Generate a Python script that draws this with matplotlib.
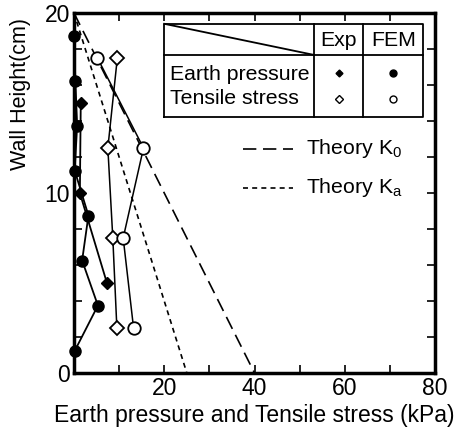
import matplotlib.pyplot as plt
import numpy as np

plt.rcParams['font.family'] = ['Liberation Sans', 'DejaVu Sans']

# FEM earth pressure (filled circles)
fem_ep_h = [18.75, 16.25, 13.75, 11.25, 8.75, 6.25, 3.75, 1.25]
fem_ep_p = [0.0, 0.3, 0.7, 0.15, 3.2, 1.8, 5.3, 0.2]
# Exp earth pressure (filled diamonds)
exp_ep_h = [15.0, 10.0, 5.0]
exp_ep_p = [1.5, 1.3, 7.3]
# Exp tensile stress (open diamonds)
exp_ts_h = [17.5, 12.5, 7.5, 2.5]
exp_ts_p = [9.6, 7.5, 8.6, 9.5]
# FEM tensile stress (open circles)
fem_ts_h = [17.5, 12.5, 7.5, 2.5]
fem_ts_p = [5.2, 15.4, 10.9, 13.2]
# theory lines
k0_p = [0, 40]
ka_p = [0, 25]
theory_h = [20, 0]

fig = plt.figure(figsize=(4.66, 4.29), dpi=100)
ax = fig.add_axes([74/466, 1 - 373/429, (435-74)/466, (373-13)/429])

ax.plot(k0_p, theory_h, color='black', lw=1.2, dashes=(8, 4))
ax.plot(ka_p, theory_h, color='black', lw=1.2, dashes=(3, 2.5))

ax.plot(fem_ep_p, fem_ep_h, color='black', lw=1.3, marker='o', ms=8,
        mfc='black', mec='black', clip_on=False, zorder=5)
ax.plot(exp_ep_p, exp_ep_h, color='black', lw=1.3, marker='D', ms=6,
        mfc='black', mec='black', clip_on=False, zorder=5)
ax.plot(exp_ts_p, exp_ts_h, color='black', lw=1.1, marker='D', ms=7,
        mfc='white', mec='black', mew=1.3, zorder=5)
ax.plot(fem_ts_p, fem_ts_h, color='black', lw=1.1, marker='o', ms=9,
        mfc='white', mec='black', mew=1.3, zorder=5)

ax.set_xlim(0, 80)
ax.set_ylim(0, 20)
ax.set_xticks([0, 20, 40, 60, 80])
ax.set_xticklabels(['', '20', '40', '60', '80'])
ax.set_xticks(np.arange(0, 81, 10), minor=True)
ax.set_yticks([0, 10, 20])
ax.set_yticks(np.arange(0, 21, 2), minor=True)
ax.tick_params(which='both', direction='in', top=True, right=True,
               labelsize=16.5, width=1.2)
ax.tick_params(which='major', length=6, pad=3)
ax.tick_params(which='minor', length=6)
for s in ax.spines.values():
    s.set_linewidth(2.5)

ax.set_xlabel('Earth pressure and Tensile stress (kPa)', fontsize=16.5, labelpad=3)
ax.set_ylabel('Wall Height(cm)', fontsize=15.5)
ax.yaxis.set_label_coords(-0.118, 0.775)

# legend table
x0, x1, xa, xb = 20.0, 77.4, 53.2, 64.1
y0, y1, ym = 14.2, 19.4, 17.67
tk = dict(color='black', lw=1.3, zorder=6)
ax.plot([x0, x1, x1, x0, x0], [y0, y0, y1, y1, y0], **tk)
ax.plot([x0, x1], [ym, ym], **tk)
ax.plot([xa, xa], [y0, y1], **tk)
ax.plot([xb, xb], [y0, y1], **tk)
ax.plot([x0, xa], [y1, ym], **tk)
fs = 15.3
ax.text((xa + xb) / 2, 18.45, 'Exp', fontsize=fs, ha='center', va='center')
ax.text((xb + x1) / 2, 18.45, 'FEM', fontsize=fs, ha='center', va='center')
ax.text(x0 + 1.3, 16.6, 'Earth pressure', fontsize=fs, ha='left', va='center')
ax.text(x0 + 1.3, 15.25, 'Tensile stress', fontsize=fs, ha='left', va='center')
ax.plot([(xa + xb) / 2], [16.65], marker='D', ms=3.5, color='black', zorder=7)
ax.plot([(xb + x1) / 2], [16.65], marker='o', ms=5, color='black', zorder=7)
ax.plot([(xa + xb) / 2], [15.25], marker='D', ms=4, mfc='white', mec='black', zorder=7)
ax.plot([(xb + x1) / 2], [15.25], marker='o', ms=5, mfc='white', mec='black', zorder=7)

ax.plot([37.5, 48.5], [12.45, 12.45], color='black', lw=1.2, dashes=(8, 4))
ax.plot([37.5, 48.5], [10.3, 10.3], color='black', lw=1.2, dashes=(3, 2.5))
ax.text(51.5, 12.45, r'Theory K$_\mathregular{0}$', fontsize=fs, ha='left', va='center')
ax.text(51.5, 10.3, r'Theory K$_\mathregular{a}$', fontsize=fs, ha='left', va='center')

fig.savefig('out.png', dpi=100)
